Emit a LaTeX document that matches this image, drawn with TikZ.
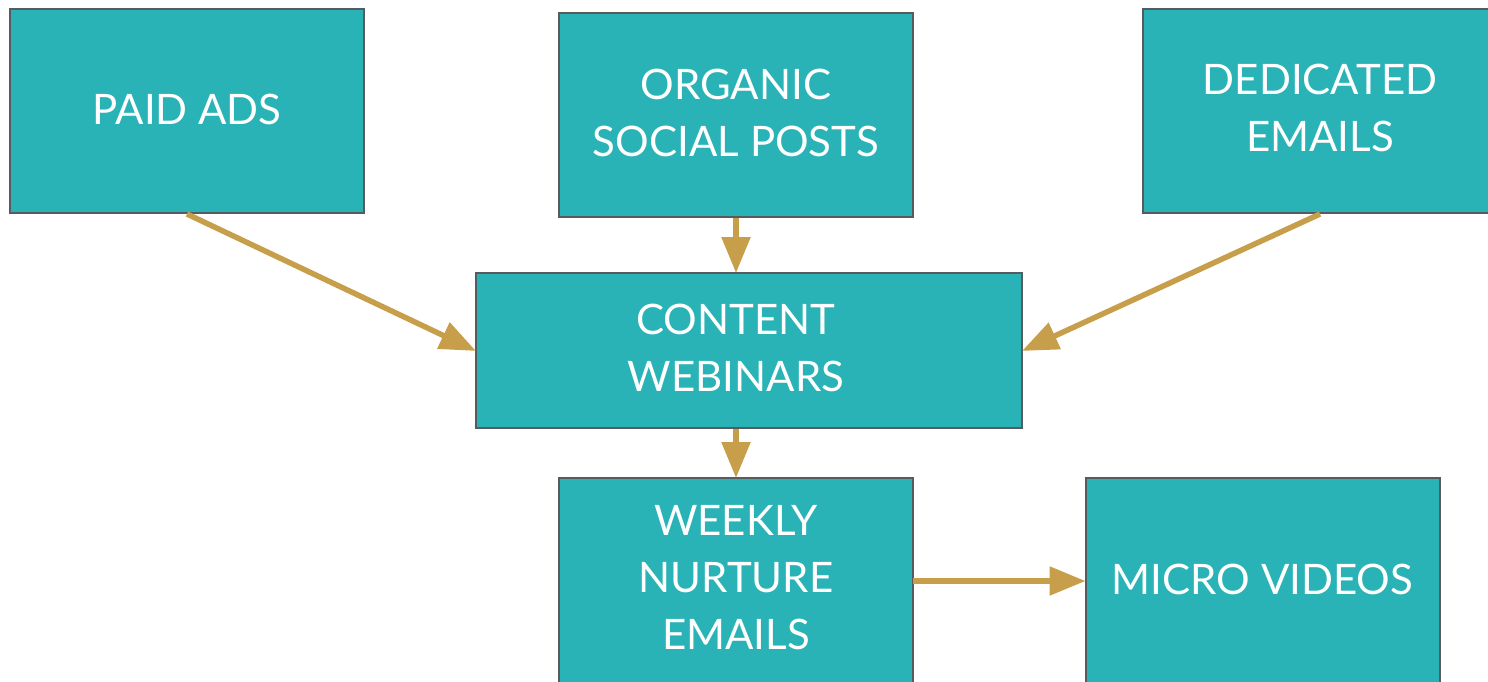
\documentclass[tikz,border=0pt]{standalone}
\usepackage{fontspec}
\setmainfont{Lato}
\usetikzlibrary{arrows.meta}
\definecolor{teal}{HTML}{2AB3B7}
\definecolor{edge}{HTML}{555B5E}
\definecolor{gold}{HTML}{C79E4A}
\begin{document}
\begin{tikzpicture}[x=1pt,y=-1pt,
  card/.style={draw=edge,line width=2pt,fill=teal,inner sep=0pt,
    minimum width=354pt,minimum height=204pt},
  caption/.style={text=white,font=\fontsize{42}{57}\selectfont,align=center,inner sep=0pt},
  flow/.style={draw=gold,line width=5.5pt,-{Triangle[length=36pt,width=28pt]},shorten >=-1pt}]
\useasboundingbox (0,0) rectangle (1488,681);
% source boxes
\node[card] (paid) at (187,111) {};
\node[card] (organic) at (736,115) {};
\node[card] (dedicated) at (1320,111) {};
% hub
\node[card,minimum width=546pt,minimum height=155pt] (content) at (749,350.5) {};
% outputs (they run past the lower edge)
\node[card,minimum height=240pt] (weekly) at (736,598) {};
\node[card,minimum height=240pt] (micro) at (1262.5,598) {};
% captions
\node[caption] (tpaid) at (187,109) {PAID ADS};
\node[caption] (torganic) at (736,113) {ORGANIC\\SOCIAL POSTS};
\node[caption] (tdedicated) at (1320,108) {DEDICATED\\EMAILS};
\node[caption] (tcontent) at (736,348) {CONTENT\\WEBINARS};
\node[caption] (tweekly) at (736,578) {WEEKLY\\NURTURE\\EMAILS};
\node[caption] (tmicro) at (1262.5,579) {MICRO VIDEOS};
% connectors
\coordinate (cl) at (content.west);
\coordinate (cr) at (content.east);
\coordinate (wr) at (913,581);
\draw[flow] (paid.south) -- (cl);
\draw[flow] (dedicated.south) -- (cr);
\draw[flow] (organic.south) -- (organic.south |- content.north);
\draw[flow] (content.south -| weekly.north) -- (weekly.north);
\draw[flow] (wr) -- (wr -| micro.west);
\end{tikzpicture}
\end{document}
